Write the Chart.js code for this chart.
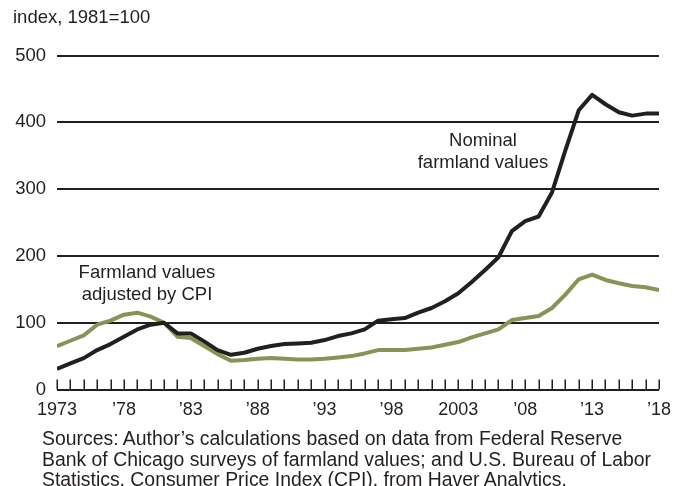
<!DOCTYPE html>
<html>
<head>
<meta charset="utf-8">
<script src="https://cdn.jsdelivr.net/npm/chart.js@4.4.1/dist/chart.umd.min.js"></script>
<style>
  html, body { margin: 0; padding: 0; background: #fff; }
  #wrap { position: relative; width: 683px; height: 486px; overflow: hidden; }
  #c { position: absolute; left: 0; top: 0; }
  .txt { position: absolute; font-family: "Liberation Sans", Arial, Helvetica, sans-serif; color: #231f20; font-size: 18.5px; white-space: nowrap; }
  .ann { text-align: center; line-height: 22px; transform: translateX(-50%); }
</style>
</head>
<body>
<div id="wrap">
  <canvas id="c" width="683" height="486"></canvas>
  <div class="txt" id="title" style="left:13px; top:8px; line-height:18px;">index, 1981=100</div>
  <div class="txt ann" style="left:483px; top:129px;">Nominal<br>farmland values</div>
  <div class="txt ann" style="left:147px; top:261px;">Farmland values<br>adjusted by CPI</div>
  <div class="txt" style="left:42px; top:428px; line-height:20.5px; font-size:19.4px;">Sources: Author’s calculations based on data from Federal Reserve<br>Bank of Chicago surveys of farmland values; and U.S. Bureau of Labor<br>Statistics, Consumer Price Index (CPI), from Haver Analytics.</div>
</div>
<script>
const years = [1973,1974,1975,1976,1977,1978,1979,1980,1981,1982,1983,1984,1985,1986,1987,1988,1989,1990,1991,1992,1993,1994,1995,1996,1997,1998,1999,2000,2001,2002,2003,2004,2005,2006,2007,2008,2009,2010,2011,2012,2013,2014,2015,2016,2017,2018];
const nominalValues = [31,39,47,59,68,79,90,97,100,84,84,72,59,52,55,61,65,68,69,70,74,80,84,90,103,105,107,115,122,132,144,161,179,198,237,252,259,295,358,418,441,427,415,410,413,413];
const realValues = [65,73,81,97,103,112,115,109,100,79,77,65,53,43,44,46,47,46,45,45,46,48,50,54,59,59,59,61,63,67,71,78,84,90,104,107,110,122,142,165,172,164,159,155,153,149];
const xTickLabels = {1973:'1973',1978:'\u201978',1983:'\u201983',1988:'\u201988',1993:'\u201993',1998:'\u201998',2003:'2003',2008:'\u201908',2013:'\u201913',2018:'\u201918'};
const yTicks = [0,100,200,300,400,500];

const FONT = "'Liberation Sans', Arial, Helvetica, sans-serif";
const INK = '#231f20';
const GREEN = '#8a9357';

const innerTicks = {
  id: 'innerTicks',
  afterDraw(chart) {
    const ctx = chart.ctx, x = chart.scales.x, y = chart.scales.y;
    const base = y.getPixelForValue(0);
    ctx.save();
    ctx.strokeStyle = INK;
    ctx.lineWidth = 1.5;
    years.forEach(yr => {
      const px = Math.round(x.getPixelForValue(yr)) + 0.25;
      ctx.beginPath();
      ctx.moveTo(px, base);
      ctx.lineTo(px, base - 10);
      ctx.stroke();
    });
    ctx.restore();
  }
};

new Chart(document.getElementById('c'), {
  type: 'line',
  data: {
    datasets: [
      { label: 'Nominal farmland values', data: years.map((yr,i)=>({x:yr,y:nominalValues[i]})), borderColor: INK, borderWidth: 4, pointRadius: 0, tension: 0, fill: false, borderJoinStyle: 'round' },
      { label: 'Farmland values adjusted by CPI', data: years.map((yr,i)=>({x:yr,y:realValues[i]})), borderColor: GREEN, borderWidth: 4, pointRadius: 0, tension: 0, fill: false, borderJoinStyle: 'round' }
    ]
  },
  options: {
    responsive: false,
    animation: false,
    devicePixelRatio: 1,
    layout: { padding: { left: 0, right: 24, top: 55.5, bottom: 0 } },
    plugins: { legend: { display: false }, tooltip: { enabled: false }, title: { display: false } },
    scales: {
      x: {
        type: 'linear', min: 1973, max: 2018,
        afterFit(s) { s.height = 96.5; },
        afterBuildTicks(s) { s.ticks = years.map(v => ({ value: v })); },
        grid: { display: false, drawTicks: false },
        border: { display: false },
        ticks: { autoSkip: false, maxRotation: 0, padding: 10, color: INK, font: { family: FONT, size: 18 },
          callback: (v) => xTickLabels[v] || '' }
      },
      y: {
        min: 0, max: 500,
        afterFit(s) { s.width = 57; },
        afterBuildTicks(s) { s.ticks = yTicks.map(v => ({ value: v })); },
        grid: { color: INK, lineWidth: 2, drawTicks: false },
        border: { display: false },
        ticks: { padding: 11, color: INK, font: { family: FONT, size: 18.5 } }
      }
    }
  },
  plugins: [innerTicks]
});
</script>
</body>
</html>
